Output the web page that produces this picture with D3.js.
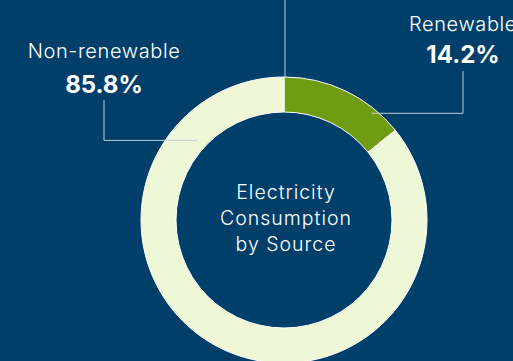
<!DOCTYPE html>
<html>
<head>
<meta charset="utf-8">
<script src="https://cdn.jsdelivr.net/npm/d3@7"></script>
<style>
  html, body { margin: 0; padding: 0; background: #003f6a; overflow: hidden; }
  svg { display: block; }
</style>
</head>
<body>
<svg id="chart"></svg>
<script>
// data
const sources = ['Renewable', 'Non-renewable'];
const shares = [14.2, 85.8];
const colors = ['#709c12', '#eef8d6'];
const centerLines = ['Electricity', 'Consumption', 'by Source'];

const width = 513, height = 361;
const cx = 284, cy = 220;
const outerR = 143, innerR = 108;
const font = 'Inter, "Open Sans", sans-serif';
const lineColor = '#c3ccd4';

const svg = d3.select('#chart')
  .attr('width', width)
  .attr('height', height)
  .attr('viewBox', `0 0 ${width} ${height}`);

svg.append('rect').attr('width', width).attr('height', height).attr('fill', '#003f6a');

const data = sources.map((s, i) => ({ source: s, value: shares[i], color: colors[i] }));

const pie = d3.pie().sort(null).value(d => d.value);
const arc = d3.arc().innerRadius(innerR).outerRadius(outerR);
const arcs = pie(data);

const g = svg.append('g').attr('transform', `translate(${cx}, ${cy})`);

// top marker line (above ring, at 0 angle)
g.append('line')
  .attr('x1', 1).attr('x2', 1)
  .attr('y1', -cy).attr('y2', -outerR)
  .attr('stroke', lineColor)
  .attr('stroke-width', 1);

g.selectAll('path.slice')
  .data(arcs)
  .join('path')
  .attr('class', 'slice')
  .attr('d', arc)
  .attr('fill', d => d.data.color)
  .attr('stroke', '#ffffff')
  .attr('stroke-width', 1);

// leader lines + labels
const point = (a, r) => [r * Math.sin(a), -r * Math.cos(a)];
const labelCfg = [
  { frac: 0.77, r: 138, elbowX: 179, topY: -149, labelY: -189, valueY: -157 },
  { frac: 0.846, r: 118, elbowX: -180, topY: -120, labelY: -162, valueY: -127 }
];

arcs.forEach((d, i) => {
  const cfg = labelCfg[i];
  const a = d.startAngle + (d.endAngle - d.startAngle) * cfg.frac;
  const [sx, sy] = point(a, cfg.r);
  g.append('polyline')
    .attr('points', [[sx, sy], [cfg.elbowX, sy], [cfg.elbowX, cfg.topY]].map(p => p.join(',')).join(' '))
    .attr('fill', 'none')
    .attr('stroke', lineColor)
    .attr('stroke-width', 1);

  g.append('text')
    .attr('x', cfg.elbowX)
    .attr('y', cfg.labelY)
    .attr('text-anchor', 'middle')
    .attr('font-family', font)
    .attr('font-size', '20px')
    .attr('font-weight', 300)
    .attr('letter-spacing', '0.6px')
    .attr('fill', '#ffffff')
    .text(d.data.source);

  g.append('text')
    .attr('x', cfg.elbowX)
    .attr('y', cfg.valueY)
    .attr('text-anchor', 'middle')
    .attr('font-family', font)
    .attr('font-size', '24px')
    .attr('font-weight', 700)
    .attr('fill', '#ffffff')
    .text(`${d.data.value.toFixed(1)}%`);
});

// centre title
g.append('text')
  .attr('text-anchor', 'middle')
  .attr('font-family', font)
  .attr('font-size', '19.5px')
  .attr('font-weight', 300)
  .attr('letter-spacing', '1px')
  .attr('fill', '#ffffff')
  .selectAll('tspan')
  .data(centerLines)
  .join('tspan')
  .attr('x', 2)
  .attr('y', (d, i) => -21 + i * 26)
  .text(d => d);
</script>
</body>
</html>
